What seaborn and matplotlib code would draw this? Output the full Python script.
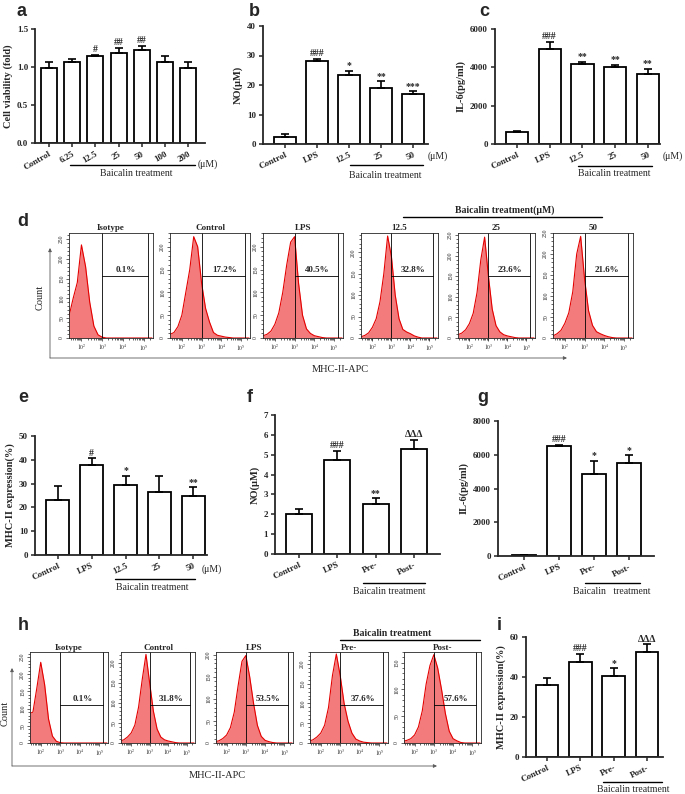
import numpy as np
import seaborn as sns
import matplotlib.pyplot as plt

W, H = 685, 794

# ---------------- bar chart data ----------------
a_cats = ['Control', '6.25', '12.5', '25', '50', '100', '200']
a_vals = [0.99, 1.07, 1.14, 1.19, 1.23, 1.06, 0.99]
a_errs = [0.08, 0.04, 0.02, 0.06, 0.05, 0.08, 0.07]
a_marks = ['', '', '#', '##', '##', '', '']

dose_cats = ['Control', 'LPS', '12.5', '25', '50']
b_vals = [2.3, 28.0, 23.3, 19.1, 16.8]
b_errs = [1.2, 0.8, 1.5, 2.1, 1.0]
b_marks = ['', '###', '*', '**', '***']

c_vals = [650, 4980, 4150, 4000, 3630]
c_errs = [50, 350, 150, 130, 300]
c_marks = ['', '###', '**', '**', '**']

e_vals = [23.0, 37.7, 29.5, 26.6, 24.7]
e_errs = [5.8, 2.9, 3.7, 6.6, 3.7]
e_marks = ['', '#', '*', '', '**']

time_cats = ['Control', 'LPS', 'Pre-', 'Post-']
f_vals = [2.0, 4.75, 2.5, 5.3]
f_errs = [0.28, 0.45, 0.3, 0.45]
f_marks = ['', '###', '**', 'ΔΔΔ']

g_vals = [50, 6500, 4870, 5530]
g_errs = [20, 80, 750, 430]
g_marks = ['', '###', '*', '*']

i_vals = [36.0, 47.7, 40.7, 52.7]
i_errs = [3.5, 4.0, 3.6, 3.7]
i_marks = ['', '###', '*', 'ΔΔΔ']

# ---------------- flow cytometry data (counts at log10 intensity) ----------------
log_bins = [1.4, 1.6, 1.8, 2.0, 2.2, 2.4, 2.6, 2.8, 3.0, 3.2, 3.4,
            3.6, 3.8, 4.0, 4.2, 4.4, 4.6, 4.8, 5.0, 5.2, 5.4]

d_titles = ['Isotype', 'Control', 'LPS', '12.5', '25', '50']
d_pcts = ['0.1%', '17.2%', '40.5%', '32.8%', '23.6%', '21.6%']
d_ymax = [265, 230, 230, 245, 255, 250]
d_counts = [
    [55, 100, 140, 235, 180, 90, 30, 8, 2, 0, 0, 0, 0, 0, 0, 0, 0, 0, 0, 0, 0],
    [8, 12, 25, 50, 100, 150, 222, 200, 120, 65, 35, 12, 6, 4, 2, 1, 0, 0, 0, 0, 0],
    [5, 8, 15, 30, 55, 100, 160, 210, 222, 120, 50, 20, 10, 5, 3, 1, 0, 0, 0, 0, 0],
    [3, 6, 12, 25, 45, 85, 150, 238, 190, 100, 45, 20, 14, 10, 5, 2, 0, 0, 0, 0, 0],
    [8, 12, 20, 35, 60, 110, 190, 245, 150, 70, 30, 15, 8, 5, 3, 1, 0, 0, 0, 0, 0],
    [5, 10, 18, 35, 60, 110, 200, 242, 140, 65, 30, 15, 10, 6, 3, 1, 0, 0, 0, 0, 0],
]

h_titles = ['Isotype', 'Control', 'LPS', 'Pre-', 'Post-']
h_pcts = ['0.1%', '31.8%', '53.5%', '37.6%', '57.6%']
h_ymax = [265, 228, 206, 230, 170]
h_counts = [
    [85, 90, 160, 235, 170, 70, 20, 5, 1, 0, 0, 0, 0, 0, 0, 0, 0, 0, 0, 0, 0],
    [5, 8, 15, 25, 45, 90, 160, 222, 150, 80, 35, 15, 8, 5, 3, 1, 0, 0, 0, 0, 0],
    [3, 5, 10, 18, 35, 70, 130, 185, 198, 150, 90, 40, 15, 6, 3, 1, 0, 0, 0, 0, 0],
    [5, 8, 15, 25, 45, 90, 170, 225, 170, 100, 55, 25, 10, 5, 2, 1, 0, 0, 0, 0, 0],
    [3, 5, 8, 15, 30, 60, 110, 145, 165, 140, 100, 55, 22, 8, 4, 1, 0, 0, 0, 0, 0],
]

sns.set_style('ticks')
plt.rcParams['font.family'] = ['Liberation Serif', 'DejaVu Serif']
plt.rcParams['mathtext.fontset'] = 'stix'

fig = plt.figure(figsize=(6.85, 7.94), dpi=100)


def px_axes(l, t, r, b):
    return fig.add_axes([l / W, 1 - b / H, (r - l) / W, (b - t) / H])


def bar_panel(box, cats, vals, errs, marks, yticks, ylabels, ylabel, xlim, rot=28):
    ax = px_axes(*box)
    n = len(cats)
    sns.barplot(x=cats, y=vals, order=cats, ax=ax, color='white', saturation=1,
                edgecolor='black', linewidth=1.3, width=0.68, errorbar=None)
    ax.errorbar(range(n), vals, yerr=[[0] * n, errs], fmt='none', ecolor='black',
                elinewidth=1.2, capsize=3, capthick=1.2)
    for k in range(n):
        if marks[k]:
            ax.annotate(marks[k], (k, vals[k] + errs[k]), xytext=(0, 0.5),
                        textcoords='offset points', ha='center', va='bottom',
                        fontsize=7, fontweight='bold', annotation_clip=False)
    ax.set_xlim(*xlim)
    ax.set_ylim(yticks[0], yticks[-1])
    ax.set_yticks(yticks)
    ax.set_yticklabels(ylabels, fontweight='bold', fontsize=6.5)
    ax.set_xticks(range(n))
    ax.set_xticklabels(cats, rotation=rot, ha='right', rotation_mode='anchor',
                       fontweight='bold', fontsize=6.5)
    ax.set_ylabel(ylabel, fontweight='bold', fontsize=7.5, labelpad=3)
    sns.despine(ax=ax)
    for s in ('left', 'bottom'):
        ax.spines[s].set_linewidth(1.3)
    ax.tick_params(direction='out', length=3, width=1.1, pad=2)
    return ax


def hist_panel(box, counts, ymax, title, pct, gate_frac, xlim, inner, title_pad):
    ax = px_axes(*box)
    ax.fill_between(log_bins, counts, color='#f37b7b', lw=0)
    sns.lineplot(x=log_bins, y=counts, ax=ax, color='#e40000', lw=0.8)
    ax.set_xlim(*xlim)
    ax.set_ylim(0, ymax)
    ax.axvline(3.0, color='black', lw=0.6)
    ax.axvline(inner, color='black', lw=0.6)
    ax.plot([3.0, inner], [gate_frac * ymax] * 2, color='black', lw=0.6)
    ax.text((3.0 + inner) / 2 + 0.05, gate_frac * ymax + ymax * 0.015, pct,
            ha='center', va='bottom', fontsize=6.5, fontweight='bold')
    ax.set_title(title, fontsize=6.5, fontweight='bold', pad=title_pad)
    ax.set_xticks([2, 3, 4, 5])
    ax.set_xticklabels([r'$10^{2}$', r'$10^{3}$', r'$10^{4}$', r'$10^{5}$'])
    minor = [p + np.log10(k) for p in range(1, 6) for k in range(2, 10)]
    ax.set_xticks([m for m in minor if xlim[0] < m < xlim[1]], minor=True)
    ax.set_yticks(list(range(0, ymax + 1, 50)))
    ax.set_yticks(list(range(0, ymax + 1, 10)), minor=True)
    ax.tick_params(which='both', direction='out', width=0.5, labelsize=4, pad=1)
    ax.tick_params(which='major', length=2.5)
    ax.tick_params(which='minor', length=1.2)
    ax.tick_params(axis='y', labelrotation=90)
    for lab in ax.get_yticklabels():
        lab.set_va('center')
    ax.set_xlabel('')
    ax.set_ylabel('')
    for s in ax.spines.values():
        s.set_linewidth(0.6)
    return ax


# ---- row 1 ----
bar_panel((35, 29, 205, 143), a_cats, a_vals, a_errs, a_marks,
          [0, 0.5, 1.0, 1.5], ['0.0', '0.5', '1.0', '1.5'],
          'Cell viability (fold)', (-0.6, 6.72), rot=30)
bar_panel((263, 26, 428, 144), dose_cats, b_vals, b_errs, b_marks,
          [0, 10, 20, 30, 40], ['0', '10', '20', '30', '40'],
          'NO(μM)', (-0.69, 4.47), rot=25)
bar_panel((495, 29, 660, 144), dose_cats, c_vals, c_errs, c_marks,
          [0, 2000, 4000, 6000], ['0', '2000', '4000', '6000'],
          'IL-6(pg/ml)', (-0.67, 4.37), rot=25)

# ---- row 2: flow histograms ----
d_boxes = [(69, 233, 153, 338), (170, 233, 250, 338), (263, 233, 343, 338),
           (361, 233, 438, 338), (458, 233, 535, 338), (553, 233, 633, 338)]
for k in range(6):
    hist_panel(d_boxes[k], d_counts[k], d_ymax[k], d_titles[k], d_pcts[k],
               0.59, (1.4, 5.45), 5.2, 2)

# ---- row 3 ----
bar_panel((35, 436, 207, 555), dose_cats, e_vals, e_errs, e_marks,
          [0, 10, 20, 30, 40, 50], ['0', '10', '20', '30', '40', '50'],
          'MHC-II expression(%)', (-0.68, 4.41), rot=25)
bar_panel((275, 415, 440, 554), time_cats, f_vals, f_errs, f_marks,
          [0, 1, 2, 3, 4, 5, 6, 7], ['0', '1', '2', '3', '4', '5', '6', '7'],
          'NO(μM)', (-0.63, 3.68), rot=25)
bar_panel((498, 421, 654, 556), time_cats, g_vals, g_errs, g_marks,
          [0, 2000, 4000, 6000, 8000], ['0', '2000', '4000', '6000', '8000'],
          'IL-6(pg/ml)', (-0.74, 3.71), rot=25)

# ---- row 4 ----
h_boxes = [(30, 652, 108, 743), (121, 652, 195, 743), (216, 652, 293, 743),
           (310, 652, 388, 743), (404, 652, 481, 743)]
for k in range(5):
    hist_panel(h_boxes[k], h_counts[k], h_ymax[k], h_titles[k], h_pcts[k],
               0.42, (1.45, 5.45), 5.2, 0)

bar_panel((526, 637, 663, 757), time_cats, i_vals, i_errs, i_marks,
          [0, 20, 40, 60], ['0', '20', '40', '60'],
          'MHC-II expression(%)', (-0.63, 3.48), rot=25)

# ---- overlay: panel letters, brackets, axis arrows ----
ov = fig.add_axes([0, 0, 1, 1])
ov.set_xlim(0, W)
ov.set_ylim(H, 0)
ov.axis('off')

letters = {'a': (22, 11), 'b': (254, 11), 'c': (484, 11), 'd': (23, 222),
           'e': (23, 397), 'f': (250, 397), 'g': (483, 397), 'h': (23, 625),
           'i': (499, 625)}
for s, (x, y) in letters.items():
    ov.text(x, y, s, ha='center', va='center', fontsize=13, fontweight='bold',
            family=['Liberation Sans', 'DejaVu Sans'])


def bracket(x1, x2, y, label, tx, ty, bold=False):
    ov.plot([x1, x2], [y, y], color='black', lw=1.0)
    ov.text(tx, ty, label, ha='center', va='center', fontsize=7,
            fontweight='bold' if bold else 'normal')


bracket(70, 195, 165, 'Baicalin treatment', 136, 174)
bracket(350, 423, 165, 'Baicalin treatment', 385, 175)
bracket(578, 652, 166, 'Baicalin treatment', 614, 174)
bracket(115, 195, 579, 'Baicalin treatment', 152, 587)
bracket(363, 425, 583, 'Baicalin treatment', 389, 592)
bracket(585, 640, 583, 'Baicalin   treatment', 612, 592)
bracket(603, 662, 782, 'Baicalin treatment', 633, 790)
bracket(403, 602, 217, 'Baicalin treatment(μM)', 505, 210, bold=True)
bracket(340, 480, 640, 'Baicalin treatment', 392, 633, bold=True)

for x, y in [(208, 164), (438, 156), (673, 156), (212, 569)]:
    ov.text(x, y, '(μM)', ha='center', va='center', fontsize=7)

arrow = dict(arrowstyle='-|>', color='0.35', lw=0.6, mutation_scale=5,
             shrinkA=0, shrinkB=0)
ov.annotate('', xy=(50, 248), xytext=(50, 358), arrowprops=arrow)
ov.annotate('', xy=(567, 358), xytext=(50, 358), arrowprops=arrow)
ov.text(40, 297, 'Count', rotation=90, ha='center', va='center', fontsize=7.5)
ov.text(340, 369, 'MHC-II-APC', ha='center', va='center', fontsize=7.5)

ov.annotate('', xy=(12, 668), xytext=(12, 766), arrowprops=arrow)
ov.annotate('', xy=(437, 766), xytext=(12, 766), arrowprops=arrow)
ov.text(5, 713, 'Count', rotation=90, ha='center', va='center', fontsize=7.5)
ov.text(217, 776, 'MHC-II-APC', ha='center', va='center', fontsize=7.5)

fig.savefig('out.png', dpi=100)
